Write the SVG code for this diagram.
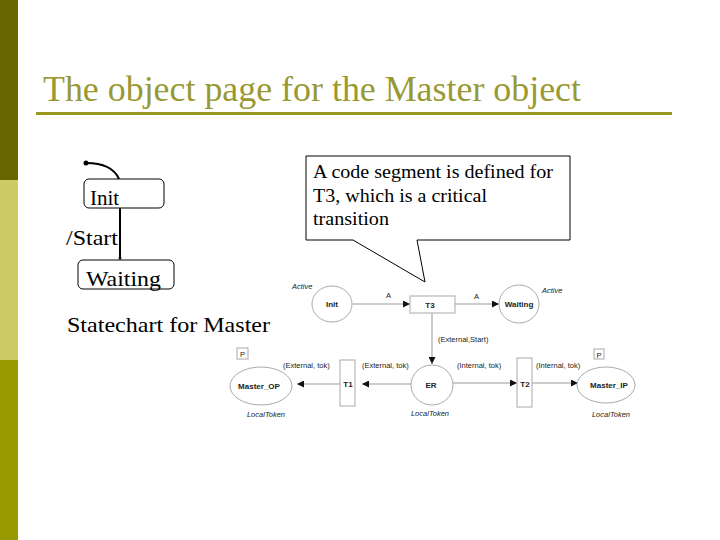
<svg xmlns="http://www.w3.org/2000/svg" width="720" height="540" viewBox="0 0 720 540">
<style>
.serif{font-family:"Liberation Serif","Times New Roman",serif;fill:#000}
.title{font-family:"Liberation Serif","Times New Roman",serif;fill:#999933;font-size:35px}
.st{fill:#fff;stroke:#000;stroke-width:1}
.pn{fill:#fff;stroke:#aaa;stroke-width:1}
.pl{font-family:"Liberation Sans",Arial,sans-serif;font-size:7.5px;fill:#222}
.pb{font-family:"Liberation Sans",Arial,sans-serif;font-size:8px;font-weight:bold;fill:#222}
.pi{font-family:"Liberation Sans",Arial,sans-serif;font-size:7.5px;font-style:italic;fill:#222}
.edge{stroke:#999;stroke-width:1;fill:none}
</style>
<defs>
<marker id="ah" viewBox="0 0 10 10" refX="10" refY="5" markerWidth="7" markerHeight="7" markerUnits="userSpaceOnUse" orient="auto"><path d="M0,0 L10,5 L0,10 z" fill="#111"/></marker>
</defs>
<rect width="720" height="540" fill="#fff"/>
<rect x="0" y="0" width="18" height="180" fill="#666600"/>
<rect x="0" y="180" width="18" height="180" fill="#cccc66"/>
<rect x="0" y="360" width="18" height="180" fill="#999900"/>
<text class="title" x="43" y="101" textLength="538" lengthAdjust="spacingAndGlyphs">The object page for the Master object</text>
<rect x="36" y="112" width="636" height="3" fill="#999922"/>

<g id="statechart">
<g id="sc-connectors">
<path d="M86,163 Q112,163 119,179" stroke="#000" stroke-width="2" fill="none"/>
<circle cx="86" cy="163" r="2.5" fill="#000"/>
<line x1="120" y1="208" x2="120" y2="259" stroke="#000" stroke-width="2"/>
<circle cx="120" cy="258" r="1.5" fill="#000"/>
<text class="serif" x="66" y="245" font-size="21" textLength="52" lengthAdjust="spacingAndGlyphs">/Start</text>
</g>
<g id="sc-init">
<rect class="st" x="84" y="179" width="80" height="29" rx="5"/>
<text class="serif" x="90" y="205" font-size="21">Init</text>
</g>
<g id="sc-waiting">
<rect class="st" x="78" y="260" width="96" height="29" rx="5"/>
<text class="serif" x="86" y="286" font-size="21" textLength="75" lengthAdjust="spacingAndGlyphs">Waiting</text>
</g>
<text class="serif" x="67" y="332" font-size="21" textLength="203" lengthAdjust="spacingAndGlyphs">Statechart for Master</text>
</g>

<g id="callout">
<path d="M306,156 H570 V240 H417 L425,282 L353,240 H306 Z" fill="#fff" stroke="#000" stroke-width="1"/>
<text class="serif" x="313" y="178" font-size="19" textLength="240" lengthAdjust="spacingAndGlyphs">A code segment is defined for</text>
<text class="serif" x="313" y="202" font-size="19" textLength="174" lengthAdjust="spacingAndGlyphs">T3, which is a critical</text>
<text class="serif" x="313" y="225" font-size="19" textLength="76" lengthAdjust="spacingAndGlyphs">transition</text>
</g>

<g id="connectors">
<line class="edge" x1="353" y1="304" x2="410" y2="304" marker-end="url(#ah)"/>
<line class="edge" x1="455" y1="304" x2="499" y2="304" marker-end="url(#ah)"/>
<line class="edge" x1="432" y1="313" x2="432" y2="364" marker-end="url(#ah)"/>
<line class="edge" x1="411" y1="384" x2="362" y2="384" marker-end="url(#ah)"/>
<line class="edge" x1="340" y1="384" x2="297" y2="384" marker-end="url(#ah)"/>
<line class="edge" x1="453" y1="383" x2="517" y2="383" marker-end="url(#ah)"/>
<line class="edge" x1="532" y1="383" x2="578" y2="383" marker-end="url(#ah)"/>
<text class="pl" x="386" y="298">A</text>
<text class="pl" x="474" y="299">A</text>
<text class="pl" x="438" y="342">(External,Start)</text>
<text class="pl" x="362" y="368">(External, tok)</text>
<text class="pl" x="283" y="368">(External, tok)</text>
<text class="pl" x="457" y="368">(Internal, tok)</text>
<text class="pl" x="536" y="368">(Internal, tok)</text>
</g>

<g id="pn-init">
<ellipse class="pn" cx="332" cy="304" rx="20" ry="18"/>
<text class="pb" x="332" y="307" text-anchor="middle">Init</text>
<text class="pi" x="292" y="289">Active</text>
</g>
<g id="pn-t3">
<rect class="pn" x="410" y="296" width="45" height="17"/>
<text class="pb" x="430" y="308" text-anchor="middle">T3</text>
</g>
<g id="pn-waiting">
<ellipse class="pn" cx="519" cy="304" rx="20" ry="19"/>
<text class="pb" x="519" y="307" text-anchor="middle">Waiting</text>
<text class="pi" x="542" y="293">Active</text>
</g>
<g id="pn-er">
<ellipse class="pn" cx="432" cy="385" rx="21" ry="20"/>
<text class="pb" x="431" y="388" text-anchor="middle">ER</text>
<text class="pi" x="430" y="416" text-anchor="middle">LocalToken</text>
</g>
<g id="pn-t1">
<rect class="pn" x="340" y="360" width="15" height="46"/>
<text class="pb" x="348" y="387" text-anchor="middle">T1</text>
</g>
<g id="pn-t2">
<rect class="pn" x="517" y="358" width="15" height="49"/>
<text class="pb" x="525" y="387" text-anchor="middle">T2</text>
</g>
<g id="pn-master-op">
<ellipse class="pn" cx="261" cy="386" rx="31" ry="19"/>
<rect class="pn" x="237" y="348" width="11" height="11"/>
<text class="pl" x="242.5" y="356.5" text-anchor="middle">P</text>
<text class="pb" x="259" y="389" text-anchor="middle">Master_OP</text>
<text class="pi" x="266" y="417" text-anchor="middle">LocalToken</text>
</g>
<g id="pn-master-ip">
<ellipse class="pn" cx="606" cy="385" rx="29" ry="18"/>
<rect class="pn" x="594" y="349" width="10" height="10"/>
<text class="pl" x="599" y="357.5" text-anchor="middle">P</text>
<text class="pb" x="609" y="388" text-anchor="middle">Master_IP</text>
<text class="pi" x="611" y="417" text-anchor="middle">LocalToken</text>
</g>
</svg>
